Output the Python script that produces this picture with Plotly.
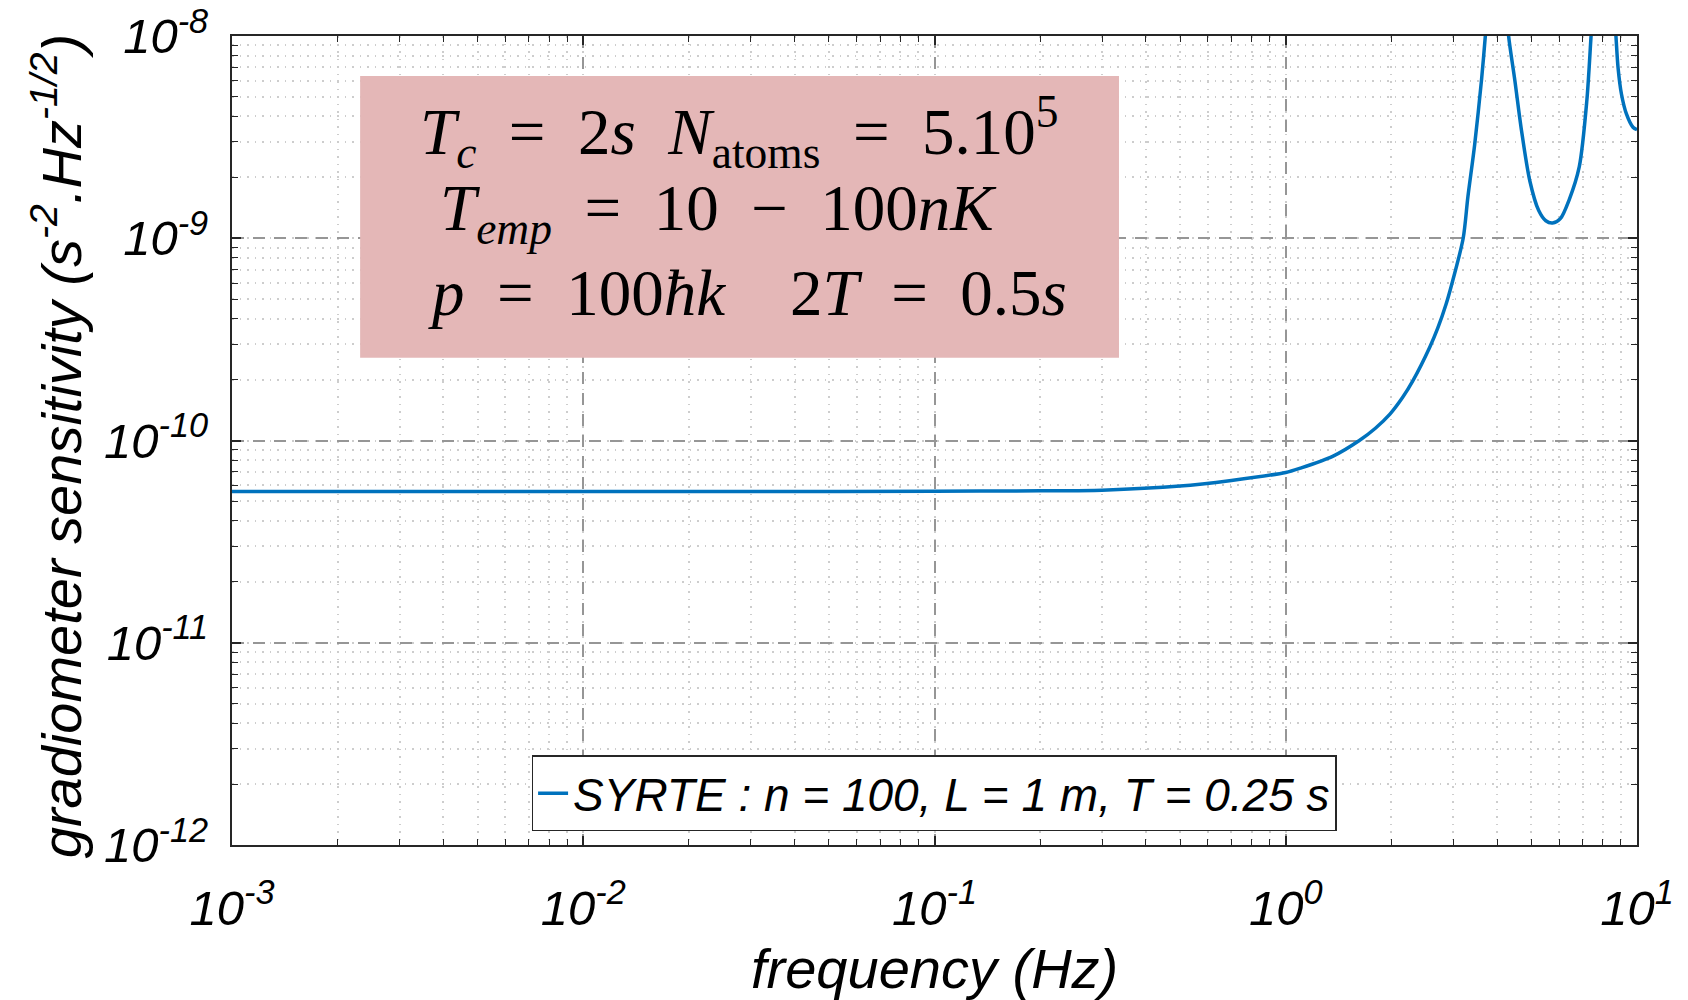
import plotly.graph_objects as go

# ---- data ----
freq_hz = [0.001, 0.003, 0.01, 0.03, 0.1, 0.2, 0.3, 0.5, 0.7, 1.0, 1.1, 1.36, 1.62,
           1.8, 1.98, 2.15, 2.3, 2.57, 2.71, 2.86, 2.96, 3.2, 3.3, 3.45, 3.61, 3.70,
           3.8, 3.9, 3.97, 4.03, 4.12, 4.22, 4.31, 4.49, 4.69, 4.95, 5.25, 5.5,
           5.75, 6.05, 6.41, 6.85, 7.2, 7.4, 7.6, 7.8, 7.96, 8.04, 8.3, 8.55, 8.71,
           8.83, 9.03, 9.33, 9.74, 10.0]
sensitivity = [5.6e-11, 5.6e-11, 5.6e-11, 5.6e-11, 5.61e-11, 5.64e-11, 5.68e-11,
               5.95e-11, 6.35e-11, 6.95e-11, 7.3e-11, 8.35e-11, 1.0e-10,
               1.15e-10, 1.35e-10, 1.63e-10, 1.97e-10, 2.89e-10, 3.6e-10, 4.72e-10,
               5.81e-10, 1.0e-9, 1.6e-9, 2.9e-9, 6.1e-9, 1.0e-8,
               1.8e-8, 5e-8, 4e-7, 4e-7, 4e-8, 1.6e-8, 1.0e-8, 6.03e-9, 3.41e-9,
               1.93e-9, 1.37e-9, 1.22e-9, 1.19e-9, 1.25e-9, 1.55e-9, 2.26e-9,
               4.83e-9, 1.0e-8, 2.0e-8, 6e-8, 4e-7, 4e-7, 4e-8, 1.6e-8, 1.0e-8,
               7.0e-9, 5.17e-9, 4.12e-9, 3.54e-9, 3.44e-9]

series_name = "SYRTE : n = 100, L = 1 m, T = 0.25 s"
x_title = "frequency (Hz)"
y_title = "gradiometer sensitivity (s<sup>-2</sup>.Hz<sup>-1/2</sup>)"

x_tick_vals = [1e-3, 1e-2, 1e-1, 1e0, 1e1]
x_tick_text = ["10<sup>-3</sup>", "10<sup>-2</sup>", "10<sup>-1</sup>", "10<sup>0</sup>", "10<sup>1</sup>"]
y_tick_vals = [1e-12, 1e-11, 1e-10, 1e-9, 1e-8]
y_tick_text = ["10<sup>-12</sup>", "10<sup>-11</sup>", "10<sup>-10</sup>", "10<sup>-9</sup>", "10<sup>-8</sup>"]

SP = "\u2005"  # math-style spacing around relations
EQ = f" {SP}={SP} "
MINUS = f" {SP}\u2212{SP} "
box_lines = [
    f"<i>T</i><sub><i>c</i></sub>{EQ}2<i>s</i>{SP} <i>N</i><sub>atoms</sub>{EQ}5.10<sup>5</sup>",
    f"<i>T<sub>emp</sub></i>{EQ}10{MINUS}100<i>nK</i>",
    f"<i>p</i>{EQ}100<i>\u0127k</i>    2<i>T</i>{EQ}0.5<i>s</i>",
]

# ---- styling ----
SANS = "Liberation Sans, Arial, sans-serif"
SERIF = "Liberation Serif, DejaVu Serif, serif"
AX = "rgb(38,38,38)"
MAJOR_GRID = "rgb(150,150,150)"
MINOR_GRID = "rgb(205,205,205)"

fig = go.Figure()
fig.add_trace(go.Scatter(
    x=freq_hz, y=sensitivity, mode="lines", name=series_name,
    line=dict(color="#0072BD", width=3.5, shape="spline", smoothing=0.8),
))

axis_common = dict(
    type="log", automargin=False,
    showline=True, linecolor=AX, linewidth=2, mirror="allticks",
    ticks="inside", ticklen=9, tickwidth=1.5, tickcolor=AX,
    showgrid=True, gridcolor=MAJOR_GRID, gridwidth=1.5, griddash="12px,9px",
    tickmode="array",
    tickfont=dict(family=SANS, size=49, color="black", style="italic"),
    zeroline=False,
    minor=dict(dtick="D1", ticks="inside", ticklen=6, tickwidth=1.2, tickcolor=AX,
               showgrid=True, gridcolor=MINOR_GRID, gridwidth=1.5, griddash="1.5px,6px"),
)

fig.update_xaxes(**axis_common, range=[-3, 1], tickvals=x_tick_vals,
                 ticktext=x_tick_text, ticklabelstandoff=19)
fig.update_yaxes(**axis_common, range=[-12, -8], tickvals=y_tick_vals,
                 ticktext=y_tick_text, ticklabelstandoff=12)

# axis titles
fig.add_annotation(xref="paper", yref="paper", x=0.4997, y=-0.153, text=x_title,
                   showarrow=False, xanchor="center", yanchor="middle",
                   font=dict(family=SANS, size=56, color="black", style="italic"))
fig.add_annotation(xref="paper", yref="paper", x=-0.1236, y=0.4933, text=y_title,
                   textangle=-90, showarrow=False, xanchor="center", yanchor="middle",
                   font=dict(family=SANS, size=56, color="black", style="italic"))

# pink annotation box (decoration, in paper coordinates)
fig.add_shape(type="rect", xref="paper", yref="paper",
              x0=0.0912, x1=0.6313, y0=0.6023, y1=0.9507,
              fillcolor="rgb(228,183,183)", line=dict(width=0), layer="above")

line_pos = [(0.361, 0.881), (0.346, 0.7815), (0.367, 0.6819)]
for txt, (px, py) in zip(box_lines, line_pos):
    fig.add_annotation(xref="paper", yref="paper", x=px, y=py, text=txt,
                       showarrow=False, xanchor="center", yanchor="middle",
                       font=dict(family=SERIF, size=65, color="black"))

fig.update_layout(
    width=1688, height=1000,
    margin=dict(l=232, r=51, t=36, b=155),
    paper_bgcolor="white", plot_bgcolor="white",
    showlegend=True,
    legend=dict(x=0.4997, y=0.017, xanchor="center", yanchor="bottom",
                bgcolor="white", bordercolor=AX, borderwidth=1.5,
                font=dict(family=SANS, size=46, color="black", style="italic"),
                itemwidth=30, tracegroupgap=0),
)

fig.write_html("out.html")
